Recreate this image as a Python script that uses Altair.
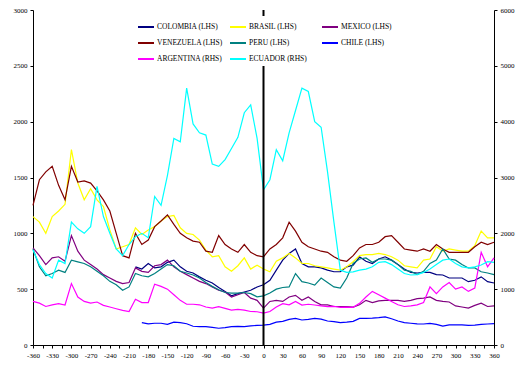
import altair as alt
import pandas as pd

STEP = 10
X_TICKS = list(range(-360, 361, 15))
LEFT_TICKS = list(range(0, 3001, 500))
RIGHT_TICKS = list(range(0, 6001, 1000))

NAMES = ["COLOMBIA (LHS)", "BRASIL (LHS)", "MEXICO (LHS)",
         "VENEZUELA (LHS)", "PERU (LHS)", "CHILE (LHS)",
         "ARGENTINA (RHS)", "ECUADOR (RHS)"]
COLORS = ["#000080", "#FFFF00", "#800080",
          "#800000", "#008080", "#0000FF",
          "#FF00FF", "#00FFFF"]

# Left-hand-scale series (start x given separately)
COLOMBIA_START = -200
COLOMBIA = [700, 680, 730, 690, 700, 740, 760, 700, 660, 645, 610, 580, 555, 515, 480, 440, 460, 475, 490, 520,
            540,
            580, 670, 760, 820, 860, 730, 700, 700, 690, 670, 656, 656, 700, 715, 790, 750, 730, 770, 790, 760,
            720, 680, 650, 645, 650, 650, 630, 627, 600, 600, 600, 567, 580, 610, 567, 555]

BRASIL_START = -360
BRASIL = [1150, 1100, 1000, 1150, 1200, 1260, 1750, 1450, 1300, 1400, 1300, 1240, 1030, 860, 880, 900, 1050, 990,
          1030, 1060, 1110, 1150, 1160, 1050, 1000, 990, 940, 850, 790, 800, 700, 660, 710, 780, 680, 715,
          680,
          656, 750, 780, 820, 780, 730, 730, 710, 700, 690, 680, 670, 700, 745, 800, 810, 810, 820, 810, 790,
          760, 710, 700, 690, 760, 770, 880, 840, 860, 850, 840, 840, 890, 1020, 960, 960]

MEXICO_START = -360
MEXICO = [870, 800, 720, 780, 790, 750, 980, 840, 760, 720, 680, 630, 600, 570, 550, 560, 690, 660, 650, 710,
          720, 760, 700, 660, 630, 600, 570, 550, 520, 490, 475, 430, 450, 470, 420, 400,
          330,
          390, 400, 390, 430, 445, 400, 430, 390, 360, 360, 345, 345, 345, 340, 360, 400, 380, 395, 400, 400,
          400, 390, 400, 415, 420, 430, 400, 390, 385, 350, 340, 330, 355, 375, 345, 350]

VENEZUELA_START = -360
VENEZUELA = [1250, 1480, 1550, 1600, 1430, 1300, 1600, 1460, 1470, 1450, 1380, 1300, 1200, 1000, 800, 780, 1000,
             900, 940, 1060, 1110, 1165, 1080, 1000, 960, 930, 920, 840, 830, 980, 900, 860, 830, 900, 830, 800,
             790,
             860, 900, 960, 1100, 1020, 920, 880, 860, 840, 830, 790, 760, 750, 800, 870, 900, 900, 920, 970, 980,
             920, 860, 850, 840, 860, 840, 900, 860, 830, 830, 830, 830, 880, 920, 900, 920]

PERU_START = -360
PERU = [860, 700, 620, 640, 670, 650, 760, 745, 730, 700, 660, 620, 570, 540, 490, 520, 640, 620, 610, 640, 680,
        720, 710, 660, 645, 627, 600, 560, 525, 495, 470, 465, 465, 470, 460, 432,
        440,
        465, 500, 515, 520, 640, 567, 555, 537, 600, 560, 520, 510, 600, 730, 770, 780, 740, 770, 770, 760, 720,
        670, 660, 630, 660, 730, 760, 860, 770, 760, 720, 690, 690, 656, 645, 630]

CHILE_START = -190
CHILE = [200, 190, 195, 195, 185, 205, 200, 190, 168, 165, 164, 158, 150, 155, 164, 166, 165, 172, 175,
         178,
         185, 205, 212, 230, 238, 224, 230, 238, 232, 215, 210, 200, 205, 212, 238, 238, 240, 245, 252, 235, 215,
         200, 195, 190, 188, 194, 185, 170, 180, 180, 180, 175, 178, 185, 188, 192]

# Right-hand-scale series
ARGENTINA_START = -360
ARGENTINA = [780, 750, 690, 720, 740, 716, 1100, 860, 780, 750, 770, 710, 680, 650, 620, 600, 820, 760, 760, 1090,
             1050, 1000, 900, 800, 730, 730, 720, 680, 660, 686, 656, 626, 638, 626, 600, 596,
             570,
             600, 680, 740, 720, 780, 716, 730, 716, 700, 686, 690, 674, 680, 674, 746, 860, 960, 900, 840, 780,
             720, 690, 700, 720, 760, 1040, 920, 1040, 1120, 1000, 1040, 960, 1020, 1660, 1400, 1560]

ECUADOR_START = -360
ECUADOR = [1700, 1440, 1280, 1200, 1520, 1460, 2200, 2080, 2000, 2120, 2840, 2300, 2000, 1720, 1600, 1800, 1940,
           2000, 1920, 2660, 2500, 3040, 3700, 3640, 4600, 3960, 3800, 3760, 3240, 3200, 3320, 3520, 3720, 4160,
           4300, 3700,
           2780,
           2960, 3500, 3300, 3800, 4200, 4600, 4540, 4000, 3900, 3100, 2200, 1340, 1300, 1310, 1340, 1360, 1400,
           1480, 1492, 1440, 1360, 1280, 1254, 1260, 1300, 1360, 1440, 1520, 1540, 1460, 1400, 1380, 1400, 1432,
           1492, 1480]

SERIES = [
    (NAMES[0], COLOMBIA, COLOMBIA_START, "L"),
    (NAMES[1], BRASIL, BRASIL_START, "L"),
    (NAMES[2], MEXICO, MEXICO_START, "L"),
    (NAMES[3], VENEZUELA, VENEZUELA_START, "L"),
    (NAMES[4], PERU, PERU_START, "L"),
    (NAMES[5], CHILE, CHILE_START, "L"),
    (NAMES[6], ARGENTINA, ARGENTINA_START, "R"),
    (NAMES[7], ECUADOR, ECUADOR_START, "R"),
]

rows = []
for order, (name, vals, start, ax) in enumerate(SERIES):
    for i, v in enumerate(vals):
        rows.append({"x": start + STEP * i, "v": v, "s": name, "ax": ax, "o": order})
df = pd.DataFrame(rows)

FONT = "Liberation Serif"

color = alt.Color(
    "s:N",
    scale=alt.Scale(domain=NAMES, range=COLORS),
    legend=alt.Legend(
        title=None, orient="none", legendX=102, legendY=6,
        direction="horizontal", columns=3, gridAlign="all",
        symbolType="stroke", symbolSize=256, symbolStrokeWidth=2,
        labelFont=FONT, labelFontSize=7.5, labelColor="black", labelOffset=2,
        labelLimit=0, columnPadding=3, rowPadding=3, padding=2,
        fillColor="white", strokeColor="white",
    ),
)

xenc = alt.X(
    "x:Q", title=None,
    scale=alt.Scale(domain=[-360, 360], nice=False, zero=False),
    axis=alt.Axis(values=X_TICKS, labelOverlap=False, labelFlush=False,
                  labelExpr="datum.value % 30 == 0 ? '' + datum.value : ''"),
)

left = alt.Chart(df).transform_filter("datum.ax == 'L'").mark_line(strokeWidth=1.2).encode(
    x=xenc,
    y=alt.Y("v:Q", title=None, scale=alt.Scale(domain=[0, 3000], nice=False),
            axis=alt.Axis(values=LEFT_TICKS, orient="left", format="d")),
    color=color,
    detail="o:O",
)

right = alt.Chart(df).transform_filter("datum.ax == 'R'").mark_line(strokeWidth=1.2).encode(
    x=xenc,
    y=alt.Y("v:Q", title=None, scale=alt.Scale(domain=[0, 6000], nice=False),
            axis=alt.Axis(values=RIGHT_TICKS, orient="right", format="d")),
    color=color,
    detail="o:O",
)

zero_line = alt.Chart(pd.DataFrame({"x": [0]})).mark_rule(color="black", strokeWidth=2).encode(x=xenc)

chart = alt.layer(left, right, zero_line).resolve_scale(y="independent").properties(
    width=461, height=335,
    padding={"left": 33, "top": 10, "right": 24, "bottom": 24},
    autosize="none",
).configure_view(stroke="transparent").configure_axis(
    grid=False, domainColor="black", tickColor="black", labelColor="black",
    labelFont=FONT, labelFontSize=7, tickSize=3, labelPadding=3, domainWidth=1,
    labelOverlap=False,
)

chart.save("out.html", embed_options={"renderer": "svg", "actions": False})
